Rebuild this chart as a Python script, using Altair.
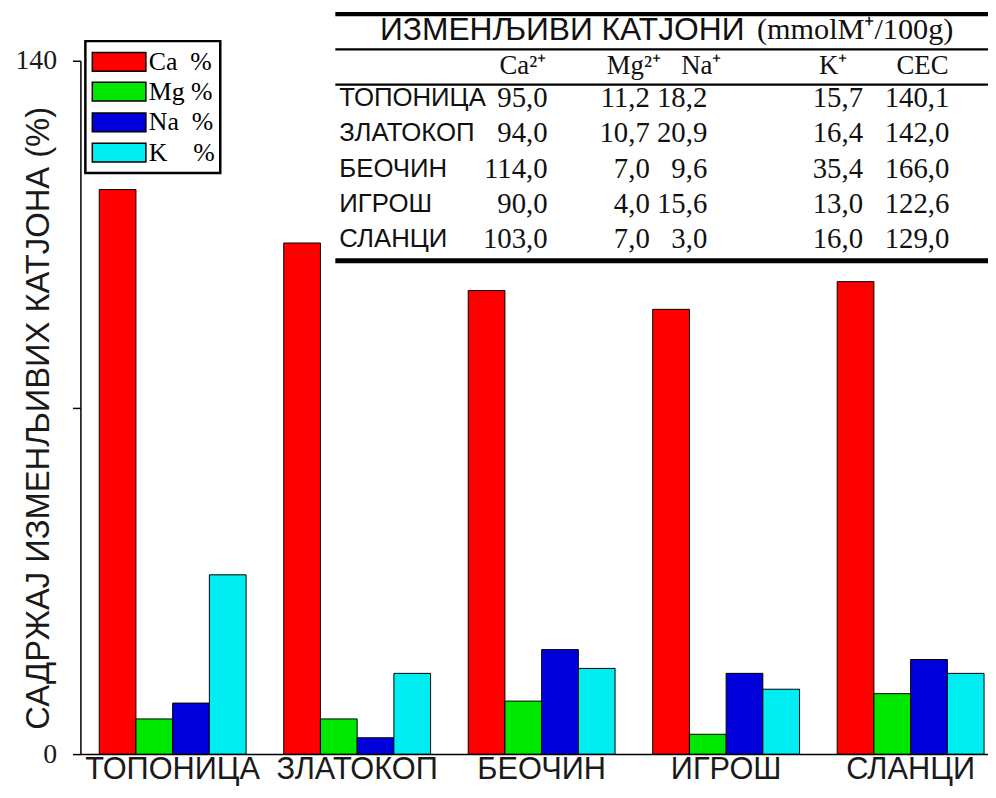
import altair as alt
import pandas as pd

SANS = "Liberation Sans"
SERIF = "Liberation Serif"

# ---- bar data ----
sites = ["ТОПОНИЦА", "ЗЛАТОКОП", "БЕОЧИН", "ИГРОШ", "СЛАНЦИ"]
ions = ["Ca\u00a0\u00a0%", "Mg\u00a0%", "Na\u00a0\u00a0%", "K\u00a0\u00a0\u00a0\u00a0%"]
ca_pct = [114.0, 103.2, 93.6, 89.8, 95.4]
mg_pct = [7.1, 7.1, 10.7, 4.0, 12.2]
na_pct = [10.3, 3.3, 21.1, 16.3, 19.1]
k_pct = [36.2, 16.3, 17.3, 13.1, 16.3]
bar_colors = ["#ff0000", "#00e800", "#0000dc", "#00eef2"]
y_ticks = [0, 70, 140]

# ---- inset table ----
table_title = "ИЗМЕНЉИВИ КАТЈОНИ"
table_unit = "(mmolM\u207a/100g)"
table_headers = ["Ca²\u207a", "Mg²\u207a", "Na\u207a", "K\u207a", "CEC"]
tbl_ca = ["95,0", "94,0", "114,0", "90,0", "103,0"]
tbl_mg = ["11,2", "10,7", "7,0", "4,0", "7,0"]
tbl_na = ["18,2", "20,9", "9,6", "15,6", "3,0"]
tbl_k = ["15,7", "16,4", "35,4", "13,0", "16,0"]
tbl_cec = ["140,1", "142,0", "166,0", "122,6", "129,0"]

# ---------------------------------------------------------------
series = [ca_pct, mg_pct, na_pct, k_pct]
bar_df = pd.DataFrame(
    [{"site": s, "ion": ions[j], "value": series[j][i]}
     for i, s in enumerate(sites) for j in range(4)]
)
ion_scale = alt.Scale(domain=ions, range=bar_colors)

bars = alt.Chart(bar_df).mark_bar(stroke="black", strokeWidth=1).encode(
    x=alt.X("site:N", sort=sites,
            scale=alt.Scale(range=[0, 930], paddingInner=0.204, paddingOuter=0.102),
            axis=alt.Axis(title=None, labelFont=SANS, labelFontSize=31, labelColor="#1a1a1a",
                          labelAngle=0, ticks=False, domainColor="black", domainWidth=1.5,
                          labelPadding=1, labelLimit=0)),
    xOffset=alt.XOffset("ion:N", sort=ions, scale=alt.Scale(paddingInner=0, paddingOuter=0)),
    y=alt.Y("value:Q", scale=alt.Scale(domain=[0, 140], nice=False),
            axis=alt.Axis(values=y_ticks, labelExpr="datum.value == 70 ? '' : datum.label",
                          grid=False, labelFont=SERIF, labelFontSize=28, labelColor="#1a1a1a",
                          tickSize=8, tickWidth=1.5, tickColor="black", domainColor="black",
                          domainWidth=1.5, labelPadding=16,
                          title="САДРЖАЈ ИЗМЕНЉИВИХ КАТЈОНА (%)", titleFont=SANS,
                          titleFontSize=33, titleFontWeight="normal", titleColor="#1a1a1a",
                          titleX=-42, titleY=360, titleBaseline="middle", titleAngle=270)),
    color=alt.Color("ion:N", sort=ions, scale=ion_scale, legend=None),
)

# ---- legend (box with swatches and labels), placed through anchor scales ----
leg_x_px = [5, 39, 69, 141]          # box left, swatch centre, label left, box right
leg_y_px = [-19.8, 1.2, 31.2, 62.2, 92.7, 113.2]   # box top, 4 rows, box bottom
lx = alt.Scale(domain=[0, 1, 2, 3], range=leg_x_px)
ly = alt.Scale(domain=[0, 1, 2, 3, 4, 5], range=leg_y_px)
leg_df = pd.DataFrame({"ion": ions, "row": [1, 2, 3, 4], "xs": [1] * 4, "xl": [2] * 4})
box_df = pd.DataFrame({"x0": [0], "x1": [3], "y0": [0], "y1": [5]})

leg_box = alt.Chart(box_df).mark_rect(fill="white", stroke="black", strokeWidth=2.5).encode(
    x=alt.X("x0:Q", scale=lx, axis=None), x2="x1:Q",
    y=alt.Y("y0:Q", scale=ly, axis=None), y2="y1:Q",
)
leg_sym = alt.Chart(leg_df).mark_point(
    shape="M-1,-0.35L1,-0.35L1,0.35L-1,0.35Z", size=2916, filled=True, opacity=1,
    stroke="black", strokeWidth=1.5,
).encode(
    x=alt.X("xs:Q", scale=lx, axis=None),
    y=alt.Y("row:Q", scale=ly, axis=None),
    fill=alt.Fill("ion:N", sort=ions, scale=ion_scale, legend=None),
)
leg_txt = alt.Chart(leg_df).mark_text(font=SERIF, fontSize=26, align="left",
                                      baseline="middle", color="black").encode(
    x=alt.X("xl:Q", scale=lx, axis=None),
    y=alt.Y("row:Q", scale=ly, axis=None),
    text="ion:N",
)
legend = alt.layer(leg_box, leg_sym, leg_txt)

# ---- table geometry through scales ----
row_keys = ["title", "header"] + sites
anchor_keys = ["edge_l", "lab", "ca", "mg", "na", "k", "cec",
               "h_ca", "h_mg", "h_na", "h_k", "h_cec", "title_l", "unit_l", "edge_r"]
anchor_px = [257, 261, 471, 574, 632, 789, 876,
             446, 558, 626, 759, 849, 302, 682, 930]
A = {k: i for i, k in enumerate(anchor_keys)}

tx_scale = alt.Scale(domain=list(range(len(anchor_keys))), range=anchor_px)
ty_scale = alt.Scale(domain=row_keys, range=[-47, 201.7], paddingInner=0, paddingOuter=0)

lab_df = pd.DataFrame({"row": sites, "col": [A["lab"]] * 5, "text": sites})
val_cols = [("ca", tbl_ca), ("mg", tbl_mg), ("na", tbl_na), ("k", tbl_k), ("cec", tbl_cec)]
val_df = pd.DataFrame([{"row": sites[i], "col": A[c], "text": vals[i]}
                       for c, vals in val_cols for i in range(5)])
hdr_df = pd.DataFrame({"row": ["header"] * 5,
                       "col": [A["h_ca"], A["h_mg"], A["h_na"], A["h_k"], A["h_cec"]],
                       "text": table_headers})
ttl_df = pd.DataFrame({"row": ["title"], "col": [A["title_l"]], "text": [table_title]})
unit_df = pd.DataFrame({"row": ["title"], "col": [A["unit_l"]], "text": [table_unit]})


def txt(df, font, size, align, dy=0):
    return alt.Chart(df).mark_text(font=font, fontSize=size, align=align, baseline="middle",
                                   color="#111111", dy=dy).encode(
        x=alt.X("col:Q", scale=tx_scale, axis=None),
        y=alt.Y("row:N", scale=ty_scale, axis=None),
        text="text:N",
    )


def rule(row, band_pos, width):
    df = pd.DataFrame({"row": [row], "col": [A["edge_l"]], "col2": [A["edge_r"]]})
    return alt.Chart(df).mark_rule(color="black", strokeWidth=width).encode(
        x=alt.X("col:Q", scale=tx_scale, axis=None),
        x2="col2:Q",
        y=alt.Y("row:N", scale=ty_scale, axis=None, bandPosition=band_pos),
    )


table = alt.layer(
    rule("title", 0, 4.5),
    rule("header", 0, 2.5),
    rule(sites[0], 0, 2.5),
    rule(sites[-1], 1, 5),
    txt(ttl_df, SANS, 32, "left", dy=-2),
    txt(unit_df, SERIF, 30.5, "left", dy=-2),
    txt(hdr_df, SERIF, 27, "center", dy=-1),
    txt(lab_df, SANS, 26, "left", dy=-4),
    txt(val_df, SERIF, 29, "right", dy=-4),
)

chart = alt.layer(bars, table, legend).resolve_scale(
    x="independent", y="independent", fill="independent", color="independent"
).properties(
    width=915, height=699,
    autosize=alt.AutoSizeParams(type="none"),
    padding={"left": 73, "top": 50, "right": 0, "bottom": 32},
    background="white",
).configure_view(stroke=None)

chart.save("out.html", embed_options={"renderer": "svg", "actions": False})
